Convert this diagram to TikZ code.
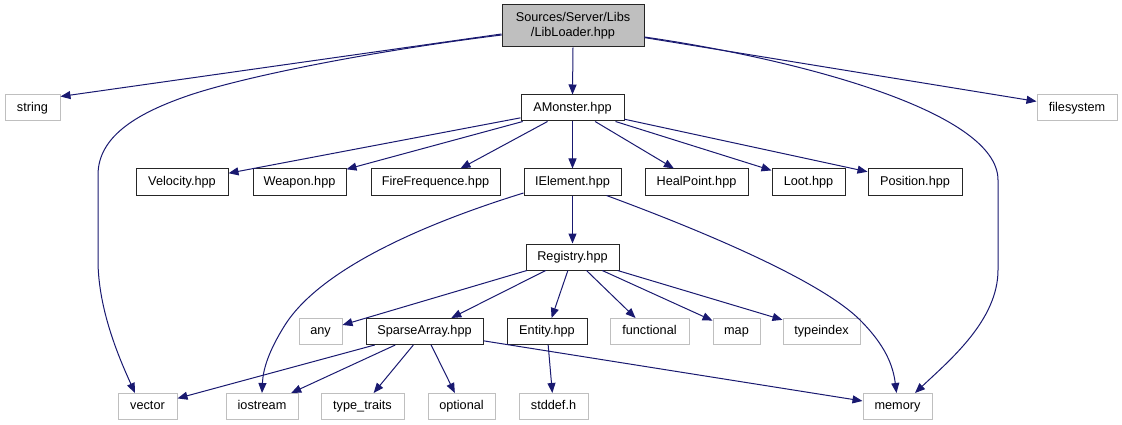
\documentclass[tikz,border=0pt]{standalone}
\usepackage{fontspec}
\setmainfont{Liberation Sans}
\usetikzlibrary{arrows.meta}
\definecolor{edgeblue}{HTML}{191970}
\definecolor{grey75}{HTML}{BFBFBF}
\begin{document}
\begin{tikzpicture}[x=1pt,y=-1pt,
  every node/.style={font=\fontsize{12.7}{15}\selectfont, inner sep=0pt, minimum height=26pt, anchor=center},
  onebox/.style={text height=9.4pt, text depth=2.6pt},
  hbox/.style={onebox, draw=black!85, line width=1pt, fill=white},
  sbox/.style={onebox, draw=grey75, line width=1pt, fill=white},
  conn/.style={draw=edgeblue, line width=1pt, -{Triangle[length=10pt,width=8pt]}}]
\useasboundingbox (0,0) rectangle (1122,425);

% row 1
\node[draw=black!85, line width=1pt, fill=grey75, minimum width=142pt, minimum height=42pt, align=center] (lib) at (573,26) {Sources/Server/Libs\\/LibLoader.hpp};
% row 2
\node[sbox, minimum width=55pt] (string) at (32.5,108) {string};
\node[hbox, minimum width=103pt] (amon) at (572.5,108) {AMonster.hpp};
\node[sbox, minimum width=80pt] (filesystem) at (1077,108) {filesystem};
% row 3
\node[hbox, minimum width=92pt] (velocity) at (182,182) {Velocity.hpp};
\node[hbox, minimum width=93pt] (weapon) at (299.5,182) {Weapon.hpp};
\node[hbox, minimum width=129pt] (fire) at (435.5,182) {FireFrequence.hpp};
\node[hbox, minimum width=97pt] (ielement) at (572.5,182) {IElement.hpp};
\node[hbox, minimum width=103pt] (heal) at (696.5,182) {HealPoint.hpp};
\node[hbox, minimum width=73pt] (loot) at (808.5,182) {Loot.hpp};
\node[hbox, minimum width=94pt] (position) at (915,182) {Position.hpp};
% row 4
\node[hbox, minimum width=93pt] (registry) at (572.5,257) {Registry.hpp};
% row 5
\node[sbox, minimum width=43pt] (any) at (320.5,331.5) {any};
\node[hbox, minimum width=117pt] (sparse) at (424.5,331.5) {SparseArray.hpp};
\node[hbox, minimum width=80pt] (entity) at (547,331.5) {Entity.hpp};
\node[sbox, minimum width=79pt] (functional) at (649.5,331.5) {functional};
\node[sbox, minimum width=47pt] (map) at (736.5,331.5) {map};
\node[sbox, minimum width=77pt] (typeindex) at (821.5,331.5) {typeindex};
% row 6
\node[sbox, minimum width=59pt] (vector) at (147.5,406.5) {vector};
\node[sbox, minimum width=72pt] (iostream) at (262,406.5) {iostream};
\node[sbox, minimum width=83pt] (typetraits) at (362.5,406.5) {type\_traits};
\node[sbox, minimum width=67pt] (optional) at (461.5,406.5) {optional};
\node[sbox, minimum width=69pt] (stddef) at (553.5,406.5) {stddef.h};
\node[sbox, minimum width=69pt] (memory) at (897.5,406.5) {memory};

% edges from LibLoader
\draw[conn] ([yshift=-8pt]lib.west) -- ([yshift=-2pt]string.north east);
\draw[conn] ([yshift=-9pt]lib.west) .. controls (380,50) and (250,75) .. (190,95)
  .. controls (140,112) and (98,135) .. (98,175) -- (98,260)
  .. controls (98,310) and (120,360) .. ([xshift=-12.5pt]vector.north);
\draw[conn] (lib.south) -- (amon.north);
\draw[conn] (lib) -- (filesystem);
\draw[conn] ([yshift=-11pt]lib.east) .. controls (790,58) and (998,110) .. (998,180) -- (998,270)
  .. controls (998,320) and (950,360) .. ([xshift=17.5pt]memory.north);

% edges from AMonster
\draw[conn] (amon) -- (velocity);
\draw[conn] (amon) -- (weapon);
\draw[conn] (amon) -- (fire);
\draw[conn] (amon.south) -- (ielement.north);
\draw[conn] (amon) -- (heal);
\draw[conn] (amon) -- (loot);
\draw[conn] (amon) -- (position);

% edges from IElement
\draw[conn] (ielement.south) -- (registry.north);
\draw[conn] ([yshift=-11pt]ielement.west) .. controls (420,225) and (320,270) .. (285,325)
  .. controls (268,352) and (263,370) .. (iostream.north);
\draw[conn] ([xshift=34pt]ielement.south) .. controls (700,230) and (820,280) .. (860,320)
  .. controls (885,345) and (893,365) .. ([xshift=-1pt]memory.north);

% edges from Registry
\draw[conn] (registry) -- (any);
\draw[conn] (registry) -- (sparse);
\draw[conn] (registry) -- (entity);
\draw[conn] (registry) -- (functional);
\draw[conn] (registry) -- (map);
\draw[conn] (registry) -- (typeindex);

% edges from SparseArray
\draw[conn] (sparse) -- (vector);
\draw[conn] (sparse) -- (iostream);
\draw[conn] (sparse) -- (typetraits);
\draw[conn] (sparse) -- (optional);
\draw[conn] (sparse) -- (memory);

% edges from Entity
\draw[conn] (entity) -- (stddef);
\end{tikzpicture}
\end{document}
